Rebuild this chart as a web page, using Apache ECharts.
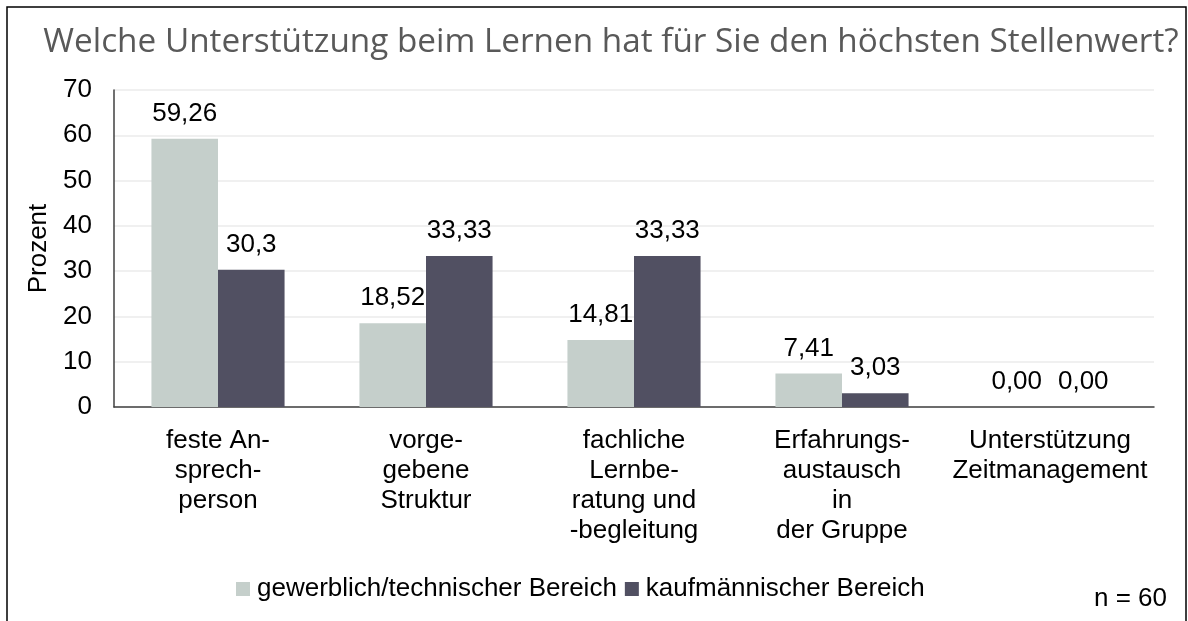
<!DOCTYPE html>
<html><head><meta charset="utf-8">
<script src="https://cdn.jsdelivr.net/npm/echarts@6/dist/echarts.min.js"></script>
<style>html,body{margin:0;padding:0;background:#fff}#c{width:1188px;height:621px}</style>
</head><body><div id="c"></div>
<script>
const categories = ['feste An-\nsprech-\nperson', 'vorge-\ngebene\nStruktur', 'fachliche\nLernbe-\nratung und\n-begleitung', 'Erfahrungs-\naustausch\nin\nder Gruppe', 'Unterstützung\nZeitmanagement'];
const seriesNames = ['gewerblich/technischer Bereich', 'kaufmännischer Bereich'];
const gewerblich = [59.26, 18.52, 14.81, 7.41, 0];
const kaufmaennisch = [30.3, 33.33, 33.33, 3.03, 0];
const yTicks = {min: 0, max: 70, interval: 10};
const titleText = 'Welche Unterstützung beim Lernen hat für Sie den höchsten Stellenwert?';
const noteText = 'n = 60';

const FS = 26;
const FF = 'Liberation Sans';
const fmt = p => p.value === 0 ? '0,00' : String(p.value).replace('.', ',');
const labelStyle = {show: true, position: 'top', distance: 12, color: '#000', fontSize: FS, fontFamily: FF, formatter: fmt};

const chart = echarts.init(document.getElementById('c'), null, {renderer: 'canvas'});
chart.setOption({
  animation: false,
  backgroundColor: '#fff',
  title: {text: titleText, left: 606, textAlign: 'center', top: 21,
    textStyle: {fontFamily: 'Open Sans', fontWeight: 'normal', fontSize: 33.3, color: '#595959'}},
  graphic: [
    {type: 'rect', shape: {x: 7, y: 7, width: 1179, height: 640}, style: {fill: null, stroke: '#000', lineWidth: 1.5}, z: 100},
    {type: 'text', right: 21, top: 586, style: {text: noteText, fontSize: FS, fontFamily: FF, fill: '#000'}}
  ],
  grid: {left: 114, right: 34, top: 90, bottom: 214},
  legend: {bottom: 14, left: 231, itemWidth: 14, itemHeight: 14, itemGap: 8,
    textStyle: {fontSize: FS, fontFamily: FF, color: '#000', padding: [0, 0, 0, 2]},
    data: seriesNames.map(n => ({name: n, icon: 'rect'}))},
  xAxis: {type: 'category', data: categories,
    axisLine: {lineStyle: {color: '#404040', width: 1.5}}, axisTick: {show: false},
    axisLabel: {fontSize: FS, fontFamily: FF, color: '#000', lineHeight: 30, margin: 19, interval: 0}},
  yAxis: {type: 'value', min: yTicks.min, max: yTicks.max, interval: yTicks.interval,
    name: 'Prozent', nameLocation: 'middle', nameGap: 62, nameRotate: 90,
    nameTextStyle: {fontSize: FS, fontFamily: FF, color: '#000'},
    axisLine: {show: true, lineStyle: {color: '#404040', width: 1.5}},
    axisLabel: {fontSize: FS, fontFamily: FF, color: '#000', margin: 22},
    splitLine: {lineStyle: {color: '#EBEBEB', width: 1.5}}},
  series: [
    {name: seriesNames[0], type: 'bar', data: gewerblich, barWidth: '32%', barGap: '0%', itemStyle: {color: '#C5CFCB'}, label: labelStyle},
    {name: seriesNames[1], type: 'bar', data: kaufmaennisch, barWidth: '32%', itemStyle: {color: '#515062'}, label: labelStyle}
  ]
});
</script></body></html>
